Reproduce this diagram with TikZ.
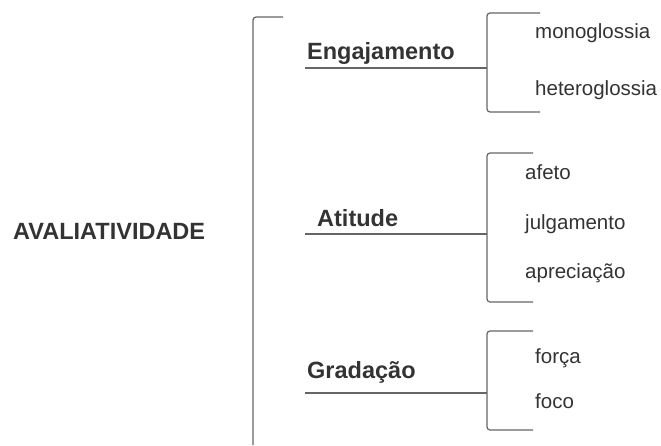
\documentclass[tikz,border=0pt]{standalone}
\usepackage{fontspec}
\setmainfont{Liberation Sans}

\begin{document}
\begin{tikzpicture}[
      x=1pt,y=-1pt,
      every node/.style={inner sep=0,text=black!80},
      category/.style={anchor=base west,font=\fontsize{23.5}{26}\selectfont\bfseries},
      option/.style={anchor=base west,font=\fontsize{20.5}{23}\selectfont},
      branch/.style={draw=black!60,line width=1.2pt,rounded corners=3pt},
    ]
    \useasboundingbox (0,0) rectangle (661,445);
    \node[category] (aval) at (13,239) {AVALIATIVIDADE};
    \node[category] (eng) at (307,59) {Engajamento};
    \node[category] (ati) at (317,226) {Atitude};
    \node[category] (gra) at (307,378) {Gradação};
    \node[option] (mono) at (535,38) {monoglossia};
    \node[option] (hetero) at (535,95) {heteroglossia};
    \node[option] (afeto) at (525,179) {afeto};
    \node[option] (julg) at (525,229) {julgamento};
    \node[option] (apre) at (525,278) {apreciação};
    \node[option] (forca) at (535,363) {força};
    \node[option] (foco) at (535,408) {foco};
    % main bracket
    \coordinate (aval top) at (283,17);
    \coordinate (aval end) at (253,445);
    \draw[branch] (aval top) -| (aval end);
    % Engajamento
    \coordinate (eng line) at (305,68);
    \coordinate (eng joint) at (487,68);
    \coordinate (eng top) at (540,13);
    \coordinate (eng bottom) at (540,112);
    \draw[branch] (eng line) -- (eng joint);
    \draw[branch] (eng top) -| (eng joint) |- (eng bottom);
    % Atitude
    \coordinate (ati line) at (305,234);
    \coordinate (ati joint) at (487,234);
    \coordinate (ati top) at (533,153);
    \coordinate (ati bottom) at (533,302);
    \draw[branch] (ati line) -- (ati joint);
    \draw[branch] (ati top) -| (ati joint) |- (ati bottom);
    % Gradacao
    \coordinate (gra line) at (305,393);
    \coordinate (gra joint) at (487,393);
    \coordinate (gra top) at (533,331);
    \coordinate (gra bottom) at (533,430);
    \draw[branch] (gra line) -- (gra joint);
    \draw[branch] (gra top) -| (gra joint) |- (gra bottom);
  \end{tikzpicture}
\end{document}
